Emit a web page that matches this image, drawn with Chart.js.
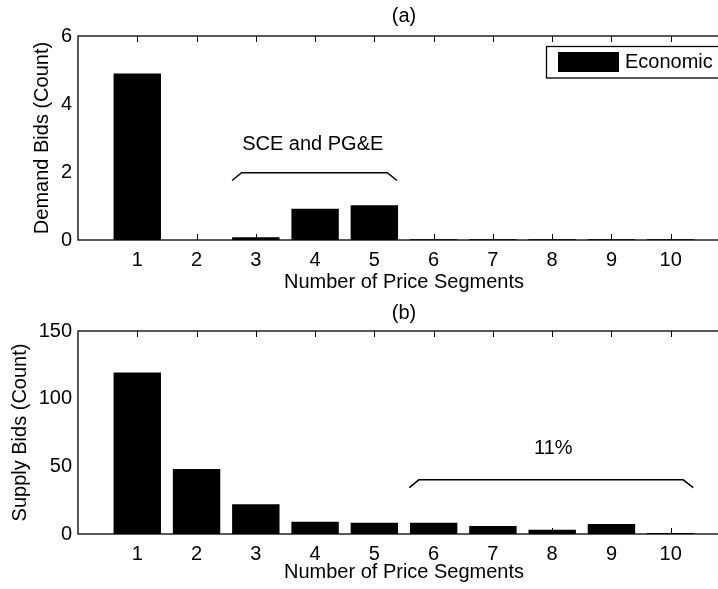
<!DOCTYPE html>
<html>
<head>
<meta charset="utf-8">
<script src="https://cdn.jsdelivr.net/npm/chart.js@4.4.1/dist/chart.umd.min.js"></script>
<style>
  html, body { margin: 0; padding: 0; background: #fff; overflow: hidden; }
  #wrap { width: 718px; height: 589px; overflow: hidden; position: relative; }
  canvas { display: block; position: absolute; left: 0; }
</style>
</head>
<body>
<div id="wrap">
  <canvas id="chartDemand" width="740" height="295" style="top:0"></canvas>
  <canvas id="chartSupply" width="740" height="294" style="top:295px"></canvas>
</div>
<script>
// dados
const segmentos = [1, 2, 3, 4, 5, 6, 7, 8, 9, 10];
const lancesDemanda = [4.9, 0, 0.08, 0.92, 1.02, 0.02, 0.02, 0.02, 0.02, 0.02];
const lancesOferta = [119.4, 48, 22, 9, 8.3, 8.3, 5.9, 3.2, 7.4, 0.8];
const ticksDemanda = [0, 2, 4, 6];
const ticksOferta = [0, 50, 100, 150];
const nomeSerie = 'Economic';

// chaves (colchetes) em coordenadas de dados
const chaveDemanda = [[2.6, 1.75], [2.76, 1.98], [5.22, 1.98], [5.38, 1.75]];
const chaveOferta = [[5.59, 34.3], [5.75, 40], [10.21, 40], [10.38, 34.3]];
const notaDemanda = { texto: 'SCE and PG&E', x: 3.96, y: 2.82 };
const notaOferta = { texto: '11%', x: 8.02, y: 63 };

const fonte = "'Liberation Sans', Arial, Helvetica, sans-serif";

const molduraPlugin = {
    id: 'moldura',
    afterDraw(chart, args, opts) {
        const { ctx, chartArea: a, scales: { x, y } } = chart;
        ctx.save();
        // caixa dos eixos
        ctx.strokeStyle = '#000';
        ctx.lineWidth = 1.3;
        ctx.strokeRect(a.left, a.top, a.right - a.left, a.bottom - a.top);
        // ticks para dentro
        ctx.lineWidth = 1;
        segmentos.forEach(s => {
            const px = Math.round(x.getPixelForValue(s)) + 0.5;
            ctx.beginPath();
            ctx.moveTo(px, a.bottom); ctx.lineTo(px, a.bottom - 6);
            ctx.moveTo(px, a.top); ctx.lineTo(px, a.top + 6);
            ctx.stroke();
        });
        // chave
        ctx.lineWidth = 1.5;
        ctx.beginPath();
        opts.chave.forEach(([cx, cy], i) => {
            const px = x.getPixelForValue(cx), py = y.getPixelForValue(cy);
            if (i === 0) ctx.moveTo(px, py); else ctx.lineTo(px, py);
        });
        ctx.stroke();
        ctx.fillStyle = '#000';
        ctx.font = `20px ${fonte}`;
        ctx.textAlign = 'center';
        ctx.textBaseline = 'middle';
        ctx.fillText(opts.nota.texto, x.getPixelForValue(opts.nota.x), y.getPixelForValue(opts.nota.y));
        // título (a)/(b)
        ctx.fillText(opts.titulo, (a.left + a.right) / 2, a.top - opts.tituloOffset);
        // legenda
        if (opts.legenda) {
            ctx.lineWidth = 1.3;
            ctx.strokeRect(546.5, 46.5, 180, 31.5);
            ctx.fillRect(558, 52, 61, 20);
            ctx.textAlign = 'left';
            ctx.fillText(chart.data.datasets[0].label, 625, 62.5);
        }
        ctx.restore();
    }
};

function criarGrafico(id, valores, ticksY, tituloY, tituloYPad, xTituloPad, extras) {
    const maxY = ticksY[ticksY.length - 1];
    return new Chart(id, {
        type: 'bar',
        data: {
            datasets: [{
                label: nomeSerie,
                data: segmentos.map((s, i) => ({ x: s, y: valores[i] })),
                backgroundColor: '#000',
                borderWidth: 0,
                barPercentage: 0.8,
                categoryPercentage: 1
            }]
        },
        options: {
            responsive: false,
            animation: false,
            layout: { padding: { top: 36, right: 10, left: 0, bottom: 0 } },
            plugins: { legend: { display: false }, tooltip: { enabled: false }, moldura: extras },
            scales: {
                x: {
                    type: 'linear', min: 0, max: 11, offset: false,
                    grid: { display: false, drawTicks: false, offset: false },
                    border: { display: false },
                    ticks: {
                        stepSize: 1, padding: 8, color: '#000',
                        font: { family: fonte, size: 20 },
                        callback: v => (v >= 1 && v <= 10) ? String(v) : ''
                    },
                    title: {
                        display: true, text: 'Number of Price Segments', color: '#000',
                        font: { family: fonte, size: 20 }, padding: { top: 0, bottom: xTituloPad }
                    },
                    afterFit: s => { s.height = 55; }
                },
                y: {
                    min: 0, max: maxY,
                    grid: { display: false, drawTicks: false },
                    border: { display: false },
                    afterBuildTicks: s => { s.ticks = ticksY.map(v => ({ value: v })); },
                    ticks: { padding: 6, color: '#000', font: { family: fonte, size: 20 } },
                    title: {
                        display: true, text: tituloY, color: '#000',
                        font: { family: fonte, size: 20 }, padding: { top: tituloYPad, bottom: 0 }
                    },
                    afterFit: s => { s.width = 78; }
                }
            }
        },
        plugins: [molduraPlugin]
    });
}

criarGrafico('chartDemand', lancesDemanda, ticksDemanda, 'Demand Bids (Count)', 30, 1,
    { chave: chaveDemanda, nota: notaDemanda, titulo: '(a)', tituloOffset: 20, legenda: true });
criarGrafico('chartSupply', lancesOferta, ticksOferta, 'Supply Bids (Count)', 8, 5,
    { chave: chaveOferta, nota: notaOferta, titulo: '(b)', tituloOffset: 18, legenda: false });
</script>
</body>
</html>
